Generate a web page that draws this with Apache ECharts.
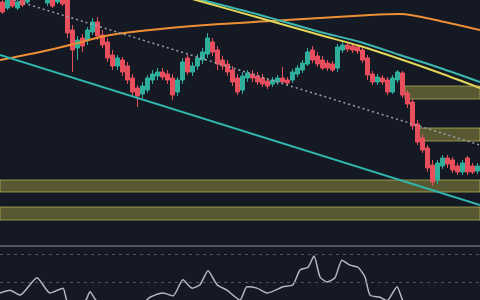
<!DOCTYPE html>
<html>
<head>
<meta charset="utf-8">
<script src="https://cdn.jsdelivr.net/npm/echarts@6/dist/echarts.min.js"></script>
<style>
  html, body { margin: 0; padding: 0; background: #151924; }
  #chart { width: 480px; height: 300px; }
</style>
</head>
<body>
<div id="chart"></div>
<script>
// candles: [open, close, low, high]
const candles = [
  [241, 231, 229, 243], [235, 243, 233, 248], [243, 237, 235, 246], [235, 241, 233, 243],
  [243, 238, 236, 246], [241, 248, 239, 251], [253, 246, 244, 256], [247, 255, 245, 258],
  [251, 245, 243, 254], [240, 246, 237, 249], [243, 237, 235, 246], [241, 247, 239, 249],
  [245, 239, 237, 248], [243, 210, 205, 246], [213, 193, 171, 218], [195, 203, 183, 207],
  [205, 197, 191, 209], [203, 213, 198, 216], [211, 221, 208, 225], [221, 207, 203, 226],
  [208, 198, 195, 213], [201, 185, 181, 205], [188, 177, 173, 193], [177, 185, 173, 188],
  [183, 171, 167, 186], [177, 163, 159, 181], [165, 151, 147, 169], [155, 147, 136, 158],
  [149, 157, 145, 161], [153, 165, 150, 168], [163, 169, 159, 173], [167, 171, 163, 175],
  [171, 166, 163, 175], [169, 163, 159, 173], [165, 148, 143, 169], [151, 163, 147, 166],
  [163, 181, 159, 185], [185, 171, 168, 188], [171, 177, 167, 181], [177, 185, 173, 189],
  [183, 191, 179, 195], [189, 205, 185, 210], [201, 191, 187, 205], [193, 179, 173, 197],
  [183, 177, 173, 187], [179, 171, 167, 183], [173, 161, 157, 177], [165, 151, 148, 169],
  [153, 167, 149, 171], [165, 170, 161, 173], [169, 165, 161, 173], [167, 161, 158, 171],
  [165, 159, 156, 169], [162, 157, 154, 165], [159, 163, 156, 166], [161, 165, 158, 168],
  [165, 161, 159, 176], [163, 160, 157, 166], [163, 171, 160, 174], [169, 175, 166, 178],
  [173, 180, 170, 183], [179, 191, 177, 195], [193, 183, 180, 197], [187, 179, 176, 191],
  [183, 175, 173, 187], [180, 175, 172, 183], [179, 173, 171, 182], [175, 196, 171, 199],
  [193, 198, 190, 201], [198, 194, 191, 201], [197, 193, 190, 200], [196, 192, 189, 199],
  [193, 183, 180, 196], [185, 168, 163, 188], [169, 161, 158, 172], [161, 166, 158, 169],
  [165, 161, 158, 168], [163, 151, 148, 166], [151, 165, 149, 168], [163, 171, 160, 173],
  [170, 148, 145, 172], [150, 139, 135, 153], [141, 117, 113, 144], [119, 101, 98, 123],
  [105, 93, 90, 109], [95, 75, 71, 98], [78, 61, 57, 83], [63, 80, 59, 83],
  [77, 85, 74, 88], [85, 79, 75, 88], [83, 73, 70, 86], [77, 71, 68, 80],
  [71, 80, 68, 83], [85, 71, 68, 87], [77, 71, 69, 80], [72, 77, 69, 80]
];
const categories = candles.map((_, i) => i + 1);

// overlay lines: [x, price]
const maLine = [[0, 183], [40, 191], [70, 198], [110, 208], [160, 214], [220, 219],
  [270, 222], [320, 225], [370, 228], [400, 229], [440, 222], [480, 213]];
const yellowLine = [[185, 246], [260, 225], [320, 208], [360, 197], [400, 184], [440, 170], [480, 155]];
const tealLine = [[190, 246], [260, 228], [320, 211], [360, 201], [400, 188], [440, 175], [480, 161]];
const dottedTrend = [[14, 243], [480, 98]];
const lowerTrend = [[0, 188], [480, 38]];

// zones: [x0, x1, top, bottom]
const zones = [
  [0, 480, 63, 51],
  [0, 480, 36, 23],
  [405, 480, 157, 144],
  [416, 480, 115, 102]
];

// rsi: [x, value]
const rsi = [[0, 14], [10, 18], [20, 11], [37, 36], [50, 14], [63, 21], [67, 3], [78, -3],
  [86, 4], [90, 16], [97, 2], [120, -10], [145, 2], [150, 8], [163, 14], [173, 10],
  [183, 33], [192, 21], [200, 26], [208, 46], [217, 26], [227, 18], [240, 4], [247, 23],
  [257, 21], [267, 14], [283, 23], [293, 26], [300, 47], [308, 51], [314, 67], [320, 37],
  [327, 30], [335, 36], [342, 61], [350, 54], [358, 51], [365, 37], [370, 11], [380, 8],
  [387, 3], [397, 23], [403, 3], [420, -25], [480, -25]];
const rsiLevels = [70, 30];

const myChart = echarts.init(document.getElementById("chart"));

const lineSeries = (data, color, width, type) => ({
  type: "line",
  xAxisIndex: 1,
  yAxisIndex: 0,
  data: data,
  symbol: "none",
  smooth: 0.3,
  lineStyle: { color: color, width: width, type: type || "solid" },
  z: 4
});

const option = {
  backgroundColor: "#151924",
  animation: false,
  grid: [
    { left: 0, right: 0, top: 0, height: 243 },
    { left: 0, right: 0, top: 246, height: 54 }
  ],
  xAxis: [
    { type: "category", gridIndex: 0, data: categories, show: false, boundaryGap: true },
    { type: "value", gridIndex: 0, min: 0, max: 480, show: false },
    {
      type: "value", gridIndex: 1, min: 0, max: 480, position: "top",
      axisLine: { show: true, lineStyle: { color: "#515662", width: 2 } },
      axisTick: { show: false }, axisLabel: { show: false }, splitLine: { show: false }
    }
  ],
  yAxis: [
    { type: "value", gridIndex: 0, min: 0, max: 243, show: false },
    { type: "value", gridIndex: 1, min: 4, max: 81.5, show: false }
  ],
  series: [
    {
      type: "candlestick",
      xAxisIndex: 0,
      yAxisIndex: 0,
      data: candles,
      barWidth: 4,
      itemStyle: {
        color: "#2fae9c",
        color0: "#e84f5c",
        borderColor: "#2fae9c",
        borderColor0: "#e84f5c",
        borderWidth: 1
      }
    },
    lineSeries(maLine, "#ee8f35", 2),
    lineSeries(tealLine, "#3cb8b0", 2),
    lineSeries(yellowLine, "#e2d65a", 2),
    Object.assign(lineSeries(dottedTrend, "#9aa0ab", 1.5, [2, 3]), { smooth: false }),
    Object.assign(lineSeries(lowerTrend, "#2fb6ae", 2), { smooth: false }),
    {
      type: "line",
      xAxisIndex: 1,
      yAxisIndex: 0,
      data: [],
      z: 5,
      markArea: {
        silent: true,
        itemStyle: {
          color: "rgba(180, 176, 72, 0.42)",
          borderColor: "rgba(190, 186, 85, 0.7)",
          borderWidth: 1
        },
        data: zones.map(z => [{ coord: [z[0], z[2]] }, { coord: [z[1], z[3]] }])
      }
    },
    {
      type: "line",
      xAxisIndex: 2,
      yAxisIndex: 1,
      data: rsi,
      symbol: "none",
      smooth: 0.2,
      lineStyle: { color: "#b4b8c2", width: 1.5 },
      markLine: {
        silent: true,
        symbol: "none",
        label: { show: false },
        lineStyle: { color: "#50555f", type: [3, 4], width: 1 },
        data: rsiLevels.map(v => ({ yAxis: v }))
      }
    }
  ]
};

myChart.setOption(option);
</script>
</body>
</html>
